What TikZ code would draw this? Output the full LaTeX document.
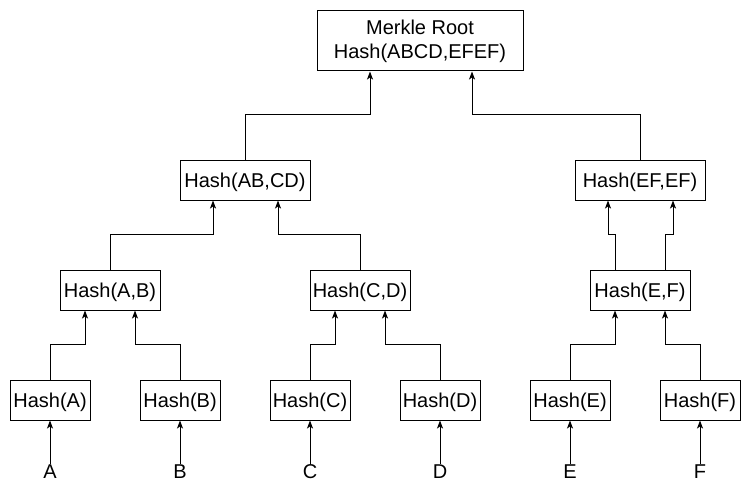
\documentclass[tikz,border=0pt]{standalone}
\usepackage{fontspec}
\setmainfont{Liberation Sans}
\usetikzlibrary{arrows.meta}

\begin{document}
\begin{tikzpicture}[x=1pt,y=-1pt,font=\fontsize{20}{24}\selectfont]
  \tikzstyle{box}=[draw,line width=1pt,inner sep=0pt,minimum height=40pt,align=center]
  \tikzstyle{hbox}=[box,text height=14.3pt,text depth=0pt]
  \tikzstyle{leaf}=[hbox,minimum width=80pt]
  \tikzstyle{link}=[line width=1pt,-{Stealth[length=8pt,width=6pt,inset=2pt]}]
  \useasboundingbox (0,0) rectangle (751,492);
  % top
  \node[box,minimum width=206pt,minimum height=60pt] (root) at (420,41) {Merkle Root\\Hash(ABCD,EFEF)};
  \node[hbox,minimum width=130pt] (habcd) at (245,180) {Hash(AB,CD)};
  \node[hbox,minimum width=130pt] (hefef) at (640,180) {Hash(EF,EF)};
  \node[hbox,minimum width=100pt] (hab) at (110,290) {Hash(A,B)};
  \node[hbox,minimum width=100pt] (hcd) at (360,290) {Hash(C,D)};
  \node[hbox,minimum width=100pt] (hef) at (640,290) {Hash(E,F)};
  % leaves and data
  \foreach \n/\x in {A/50,B/180,C/310,D/440,E/570,F/700}{
    \node[leaf] (h\n) at (\x,400) {Hash(\n)};
    \node[inner sep=1pt] (d\n) at (\x,472) {\n};
    \draw[link] (d\n.north) -- (h\n.south);
  }
  \draw[link] (hA.north) -- ++(0,-35) -| ([xshift=-25pt]hab.south);
  \draw[link] (hB.north) -- ++(0,-35) -| ([xshift=25pt]hab.south);
  \draw[link] (hC.north) -- ++(0,-35) -| ([xshift=-25pt]hcd.south);
  \draw[link] (hD.north) -- ++(0,-35) -| ([xshift=25pt]hcd.south);
  \draw[link] (hE.north) -- ++(0,-35) -| ([xshift=-25pt]hef.south);
  \draw[link] (hF.north) -- ++(0,-35) -| ([xshift=25pt]hef.south);
  \draw[link] (hab.north) -- ++(0,-35) -| ([xshift=-32pt]habcd.south);
  \draw[link] (hcd.north) -- ++(0,-35) -| ([xshift=33pt]habcd.south);
  \draw[link] ([xshift=-25pt]hef.north) -- ++(0,-35) -| ([xshift=-32pt]hefef.south);
  \draw[link] ([xshift=25pt]hef.north) -- ++(0,-35) -| ([xshift=33pt]hefef.south);
  \draw[link] (habcd.north) -- ++(0,-45) -| ([xshift=-50pt]root.south);
  \draw[link] (hefef.north) -- ++(0,-45) -| ([xshift=52pt]root.south);
\end{tikzpicture}
\end{document}
